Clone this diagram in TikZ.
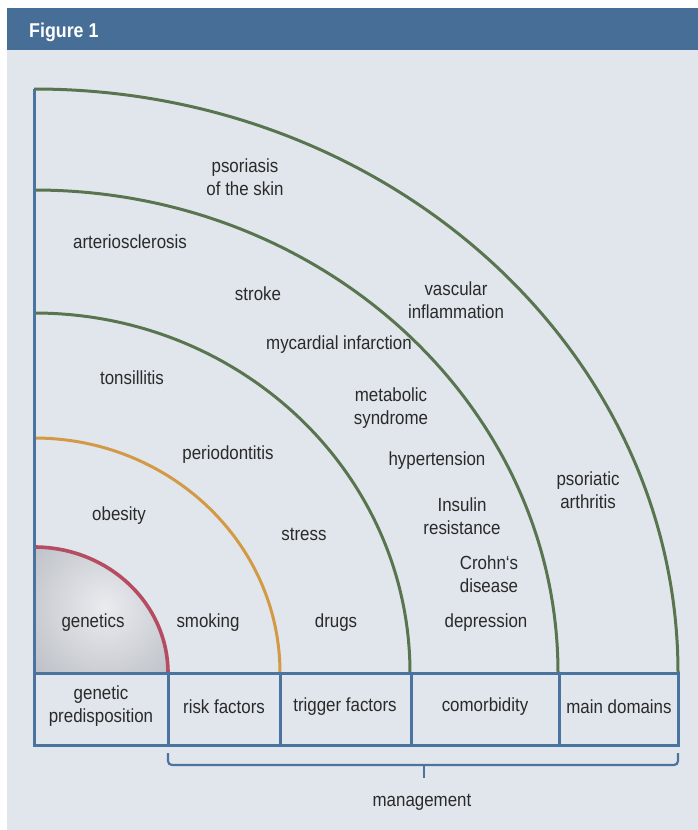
\documentclass[tikz,border=0pt]{standalone}
\usepackage{fontspec}
\setmainfont{Liberation Sans}[FakeStretch=0.89]
\definecolor{bgc}{HTML}{E1E6EC}
\definecolor{hdr}{HTML}{476E96}
\definecolor{bl}{HTML}{4A73A0}
\definecolor{grn}{HTML}{587550}
\definecolor{org}{HTML}{D39A45}
\definecolor{redc}{HTML}{B54C62}
\definecolor{txt}{HTML}{2A2A2A}
\definecolor{shin}{HTML}{E9EBEF}
\definecolor{shout}{HTML}{9DA1A9}
\begin{document}
\begin{tikzpicture}[x=1pt,y=-1pt,
  lbl/.style={font=\fontsize{19}{22.5}\selectfont, text=txt, align=center, inner sep=0pt},
  ring/.style={line width=3pt},
  tline/.style={draw=bl, line width=3pt}]
\useasboundingbox (0,0) rectangle (698,830);
\fill[white] (0,0) rectangle (698,830);
\fill[bgc] (7,8) rectangle (698,830);
\fill[hdr] (7,8) rectangle (698,50);
\node[font=\fontsize{20}{24}\selectfont\bfseries, text=white, anchor=west, inner sep=0pt] (fig) at (29,32) {Figure 1};
% shaded core
\begin{scope}
\clip (34,673) -- (34,547) arc[start angle=-90,end angle=0,x radius=134,y radius=126] -- cycle;
\shade[inner color=shin, outer color=shout] (105,607) circle[radius=165];
\end{scope}
% rings
\draw[ring, draw=redc, line width=3.6pt] (34,547) arc[start angle=-90,end angle=0,x radius=134,y radius=126];
\draw[ring, draw=org] (34,438) arc[start angle=-90,end angle=0,x radius=246,y radius=235];
\draw[ring, draw=grn] (34,313) arc[start angle=-90,end angle=0,x radius=376,y radius=360];
\draw[ring, draw=grn] (34,190) arc[start angle=-90,end angle=0,x radius=524,y radius=483];
\draw[ring, draw=grn] (34,89) arc[start angle=-90,end angle=0,x radius=644,y radius=584];
% left axis and table
\draw[tline] (34,89) -- (34,673);
\draw[tline] (34,673) rectangle (678,745);
\draw[tline] (168,673) -- (168,745);
\draw[tline] (280,673) -- (280,745);
\draw[tline] (411,673) -- (411,745);
\draw[tline] (559,673) -- (559,745);
% brace
\coordinate (bl) at (168,753);
\coordinate (br) at (678,753);
\coordinate (bm) at (424,765);
\coordinate (bt) at (424,778);
\draw[draw=bl, line width=2.2pt, rounded corners=4pt] (bl) |- (br |- bm) -- (br);
\draw[draw=bl, line width=2.2pt] (bm) -- (bt);
\node[lbl] (mgmt) at (422,802) {management};
% table labels
\node[lbl] (t1) at (101,706) {genetic\\predisposition};
\node[lbl] (t2) at (224,707) {risk factors};
\node[lbl] (t3) at (345,707) {trigger factors};
\node[lbl] (t4) at (485,707) {comorbidity};
\node[lbl] (t5) at (619,707) {main domains};
% ring labels
\node[lbl] (a1) at (245,177) {psoriasis\\of the skin};
\node[lbl] (a2) at (130,242) {arteriosclerosis};
\node[lbl] (a3) at (258,294) {stroke};
\node[lbl] (a4) at (456,300) {vascular\\inflammation};
\node[lbl] (a5) at (339,345) {mycardial infarction};
\node[lbl] (a6) at (132,378) {tonsillitis};
\node[lbl] (a7) at (391,408) {metabolic\\syndrome};
\node[lbl] (a8) at (228,455) {periodontitis};
\node[lbl] (a9) at (437,461) {hypertension};
\node[lbl] (a10) at (588,490) {psoriatic\\arthritis};
\node[lbl] (a11) at (119,516) {obesity};
\node[lbl] (a12) at (462,516) {Insulin\\resistance};
\node[lbl] (a13) at (304,534) {stress};
\node[lbl] (a14) at (489,574) {Crohn‘s\\disease};
\node[lbl] (a15) at (93,623) {genetics};
\node[lbl] (a16) at (208,623) {smoking};
\node[lbl] (a17) at (336,623) {drugs};
\node[lbl] (a18) at (486,623) {depression};
\end{tikzpicture}
\end{document}
